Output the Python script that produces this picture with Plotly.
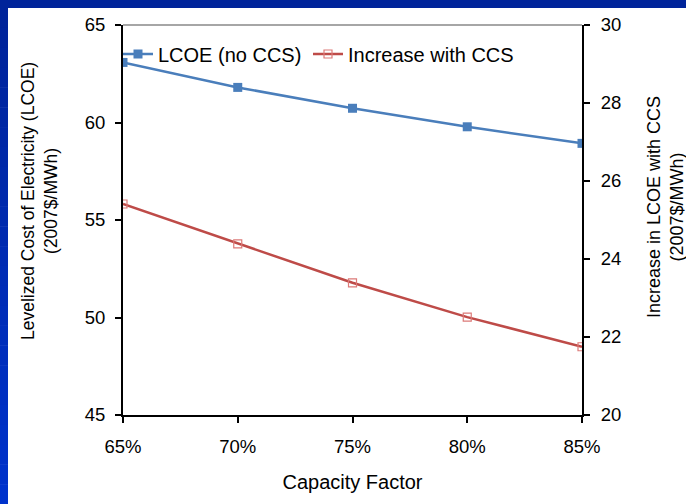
import plotly.graph_objects as go

capacity_factor = [0.65, 0.70, 0.75, 0.80, 0.85]
lcoe_no_ccs = [63.08, 61.80, 60.73, 59.78, 58.93]
increase_with_ccs = [25.41, 24.39, 23.39, 22.51, 21.75]
x_tick_labels = ["65%", "70%", "75%", "80%", "85%"]

W, H = 686, 504
L, R, T, B = 123, 582, 25, 415

def px(x):
    return (x - L) / (R - L)

def py(y):
    return (B - y) / (B - T)

fig = go.Figure()
fig.add_trace(go.Scatter(
    x=capacity_factor, y=lcoe_no_ccs, name="LCOE (no CCS)",
    mode="lines+markers",
    line=dict(color="#4a7ebb", width=2.5),
    marker=dict(symbol="square", size=9, color="#4a7ebb"),
    yaxis="y", legend="legend"))
fig.add_trace(go.Scatter(
    x=capacity_factor, y=increase_with_ccs, name="Increase with CCS",
    mode="lines+markers",
    line=dict(color="#be4b48", width=2.5),
    marker=dict(symbol="square-open", size=8, color="#dc7a78", line=dict(width=1.2)),
    yaxis="y2", legend="legend2"))

shapes = []
# top band
shapes.append(dict(type="rect", xref="paper", yref="paper", x0=px(0), x1=px(W), y0=py(8), y1=py(0),
                   fillcolor="#00249a", line=dict(width=0), layer="below"))
# left strip gradient
n = 25
for i in range(n):
    y0 = 8 + (H - 8) * i / n
    y1 = 8 + (H - 8) * (i + 1) / n + 0.5
    t = i / (n - 1)
    g = int(0x24 + (0x33 - 0x24) * t)
    b = int(0x9a + (0xcc - 0x9a) * t)
    shapes.append(dict(type="rect", xref="paper", yref="paper", x0=px(0), x1=px(8), y0=py(y1), y1=py(y0),
                       fillcolor=f"rgb(0,{g},{b})", line=dict(width=0), layer="below"))
# plot-area top border (gray)
shapes.append(dict(type="line", xref="paper", yref="paper", x0=0, x1=1, y0=1, y1=1,
                   line=dict(color="#888888", width=1.5)))

font = dict(family="Liberation Sans, Arial, sans-serif", color="#000000")

annotations = [
    dict(text="Levelized Cost of Electricity (LCOE)<br>(2007$/MWh)", textangle=-90,
         xref="paper", yref="paper", x=px(40), y=py(201), xanchor="center", yanchor="middle",
         showarrow=False, font=dict(size=17.5, **font)),
    dict(text="Increase in LCOE with CCS<br>(2007$/MWh)", textangle=-90,
         xref="paper", yref="paper", x=px(665.5), y=py(207.5), xanchor="center", yanchor="middle",
         showarrow=False, font=dict(size=18, **font)),
]

leg = dict(orientation="h", xanchor="left", yanchor="top",
           bgcolor="rgba(0,0,0,0)", font=dict(size=20, **font), itemwidth=30)

fig.update_layout(
    width=W, height=H,
    margin=dict(l=L, r=W - R, t=T, b=H - B, pad=0),
    paper_bgcolor="white", plot_bgcolor="white",
    font=dict(size=18.5, **font),
    shapes=shapes,
    annotations=annotations,
    showlegend=True,
    legend=dict(x=px(118), y=py(34.5), **leg),
    legend2=dict(x=px(308), y=py(34.5), **leg),
    xaxis=dict(range=[0.65, 0.85], tickvals=capacity_factor, ticktext=x_tick_labels,
               showgrid=False, zeroline=False, showline=True, linecolor="black", linewidth=2,
               ticks="outside", ticklen=6, tickwidth=1.5, tickcolor="black",
               ticklabelstandoff=8,
               tickfont=dict(size=18.5, **font),
               title=dict(text="Capacity Factor", font=dict(size=20, **font), standoff=19)),
    yaxis=dict(range=[45, 65], tickvals=[45, 50, 55, 60, 65],
               showgrid=False, zeroline=False, showline=True, linecolor="black", linewidth=2,
               ticks="outside", ticklen=6, tickwidth=1.5, tickcolor="black",
               ticklabelstandoff=6,
               tickfont=dict(size=18.5, **font)),
    yaxis2=dict(range=[20, 30], tickvals=[20, 22, 24, 26, 28, 30], overlaying="y", side="right",
                showgrid=False, zeroline=False, showline=True, linecolor="black", linewidth=2,
                ticks="outside", ticklen=6, tickwidth=1.5, tickcolor="black",
                ticklabelstandoff=7,
                tickfont=dict(size=18.5, **font)),
)

fig.write_html("out.html", config={"displayModeBar": False},
               post_script="document.body.style.margin='0';document.body.style.padding='0';")
